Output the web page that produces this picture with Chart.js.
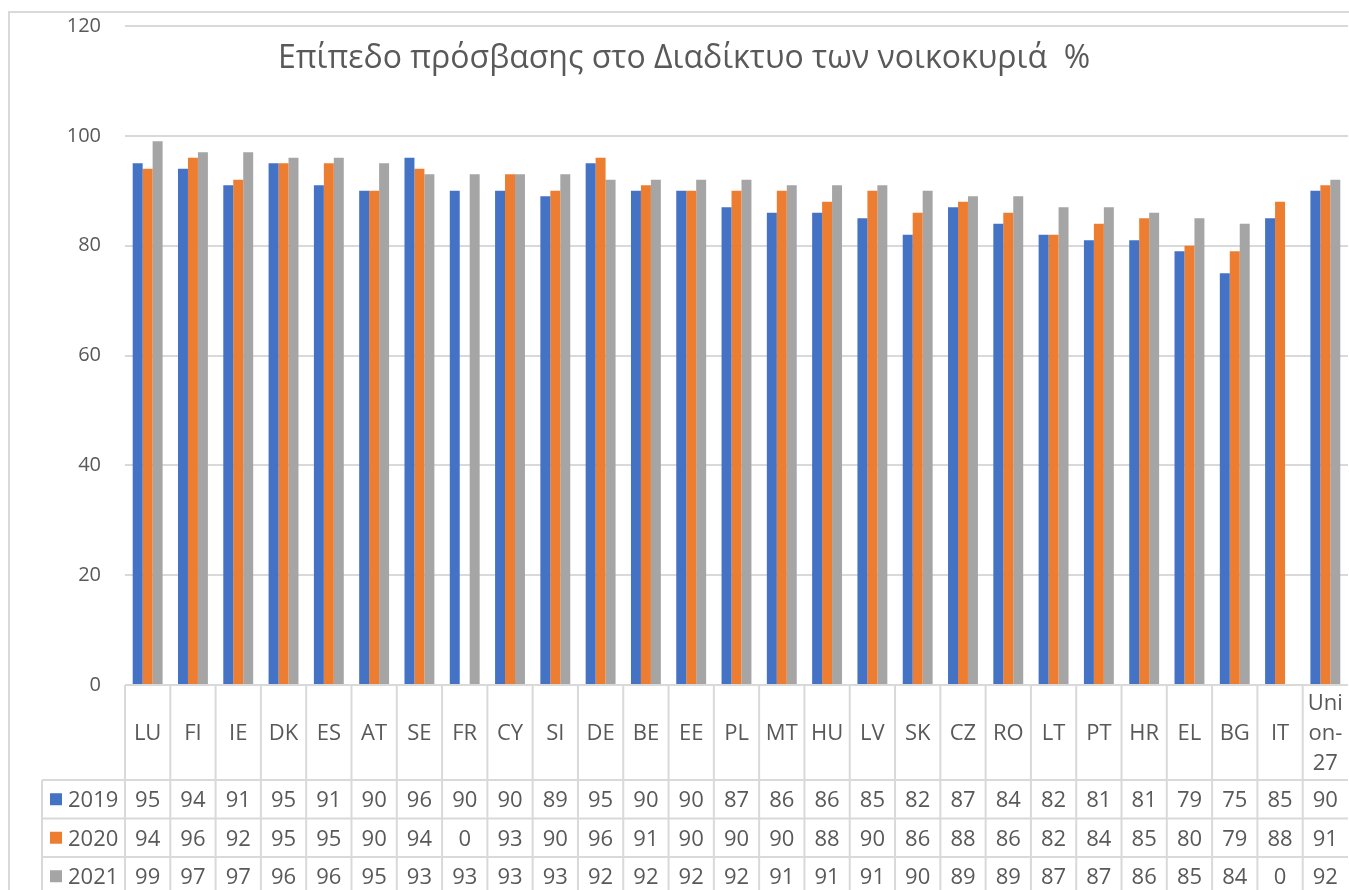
<!DOCTYPE html>
<html>
<head>
<meta charset="utf-8">
<script src="https://cdn.jsdelivr.net/npm/chart.js@4.4.1/dist/chart.umd.min.js"></script>
<style>
  html, body { margin: 0; padding: 0; background: #ffffff; }
  #wrap { width: 1349px; height: 890px; position: relative; }
</style>
</head>
<body>
<div id="wrap"><canvas id="c" width="1349" height="890"></canvas></div>
<script>
// Household internet access level (%) by country
const categories = ['LU','FI','IE','DK','ES','AT','SE','FR','CY','SI','DE','BE','EE','PL','MT','HU','LV','SK','CZ','RO','LT','PT','HR','EL','BG','IT','Union-27'];
const seriesNames = ['2019', '2020', '2021'];
const values2019 = [95,94,91,95,91,90,96,90,90,89,95,90,90,87,86,86,85,82,87,84,82,81,81,79,75,85,90];
const values2020 = [94,96,92,95,95,90,94,0,93,90,96,91,90,90,90,88,90,86,88,86,82,84,85,80,79,88,91];
const values2021 = [99,97,97,96,96,95,93,93,93,93,92,92,92,92,91,91,91,90,89,89,87,87,86,85,84,0,92];
const chartTitle = 'Επίπεδο πρόσβασης στο Διαδίκτυο των νοικοκυριά  %';

const seriesColors = ['#4472C4', '#ED7D31', '#A5A5A5'];
const textColor = '#595959';
const lineColor = '#d9d9d9';
const fontFamily = "'Open Sans', 'Noto Sans', sans-serif";

// Outer frame of the chart object
const framePlugin = {
  id: 'frame',
  beforeDraw(chart) {
    const ctx = chart.ctx;
    ctx.save();
    ctx.fillStyle = '#ffffff';
    ctx.fillRect(0, 0, chart.width, chart.height);
    ctx.strokeStyle = lineColor;
    ctx.lineWidth = 2;
    ctx.strokeRect(9, 12, chart.width + 20, chart.height + 20);
    ctx.restore();
  }
};

// Title laid over the top of the plot area
const overlayTitlePlugin = {
  id: 'overlayTitle',
  afterDraw(chart) {
    const ctx = chart.ctx;
    ctx.save();
    ctx.font = '32px ' + fontFamily;
    ctx.fillStyle = textColor;
    ctx.textAlign = 'center';
    ctx.textBaseline = 'alphabetic';
    ctx.fillText(chartTitle, 684, 68);
    ctx.restore();
  }
};

// Break a label into lines that fit the column width
function wrapLabel(ctx, text, maxWidth) {
  if (ctx.measureText(text).width <= maxWidth) return [text];
  const lines = [];
  let cur = '';
  for (const ch of text) {
    if (cur && ctx.measureText(cur + ch).width > maxWidth) {
      lines.push(cur);
      cur = ch;
    } else {
      cur += ch;
    }
  }
  if (cur) lines.push(cur);
  return lines;
}

// Data table under the plot: category row plus one row per series
const dataTablePlugin = {
  id: 'dataTable',
  afterDraw(chart) {
    const ctx = chart.ctx;
    const area = chart.chartArea;
    const xs = chart.scales.x;
    const n = categories.length;
    const colW = (area.right - area.left) / n;
    const top = area.bottom;
    const catRowH = 95;
    const rowH = 38.5;
    const catBottom = top + catRowH;
    const legendLeft = 42;
    const bottomEdge = chart.height + 5;
    const fontSize = 22;
    const rows = [values2019, values2020, values2021];

    ctx.save();
    ctx.strokeStyle = lineColor;
    ctx.lineWidth = 2;
    ctx.beginPath();
    ctx.moveTo(area.left, top);
    ctx.lineTo(area.right, top);
    for (let r = 0; r < rows.length; r++) {
      const y = catBottom + r * rowH;
      ctx.moveTo(legendLeft, y);
      ctx.lineTo(area.right, y);
    }
    for (let i = 0; i < n; i++) {
      const xl = xs.getPixelForValue(i) - colW / 2;
      ctx.moveTo(xl, top);
      ctx.lineTo(xl, bottomEdge);
    }
    ctx.moveTo(legendLeft, catBottom);
    ctx.lineTo(legendLeft, bottomEdge);
    ctx.stroke();

    ctx.font = fontSize + 'px ' + fontFamily;
    ctx.fillStyle = textColor;
    ctx.textAlign = 'center';
    ctx.textBaseline = 'alphabetic';
    const capHalf = fontSize * 0.357;

    // category labels
    for (let i = 0; i < n; i++) {
      const cx = xs.getPixelForValue(i);
      const lines = wrapLabel(ctx, categories[i], colW - 6);
      const lh = 30;
      const cy0 = top + catRowH / 2 - (lines.length - 1) * lh / 2;
      lines.forEach((ln, k) => {
        ctx.fillText(ln, cx, cy0 + k * lh + capHalf);
      });
    }

    // series rows
    rows.forEach((vals, r) => {
      const cy = catBottom + rowH * (r + 0.5);
      ctx.fillStyle = seriesColors[r];
      ctx.fillRect(50, cy - 6, 12, 12);
      ctx.fillStyle = textColor;
      ctx.textAlign = 'left';
      ctx.fillText(seriesNames[r], 68, cy + capHalf);
      ctx.textAlign = 'center';
      for (let i = 0; i < n; i++) {
        ctx.fillText(String(vals[i]), xs.getPixelForValue(i), cy + capHalf);
      }
    });
    ctx.restore();
  }
};

const ctx = document.getElementById('c').getContext('2d');
new Chart(ctx, {
  type: 'bar',
  data: {
    labels: categories,
    datasets: [
      { label: seriesNames[0], data: values2019, backgroundColor: seriesColors[0] },
      { label: seriesNames[1], data: values2020, backgroundColor: seriesColors[1] },
      { label: seriesNames[2], data: values2021, backgroundColor: seriesColors[2] }
    ]
  },
  options: {
    responsive: false,
    animation: false,
    layout: { padding: { top: 26, right: 1, bottom: 205, left: 0 } },
    datasets: { bar: { categoryPercentage: 0.66, barPercentage: 1.0, borderWidth: 0 } },
    plugins: {
      legend: { display: false },
      title: { display: false },
      tooltip: { enabled: false }
    },
    scales: {
      x: { display: false, grid: { display: false } },
      y: {
        min: 0,
        max: 120,
        ticks: { stepSize: 20, padding: 24, color: textColor, font: { family: fontFamily, size: 20 } },
        grid: { color: lineColor, lineWidth: 2, drawTicks: false },
        border: { display: false },
        afterFit(scale) {
          scale.width = 125;
          scale.paddingTop = 0;
          scale.paddingBottom = 0;
        }
      }
    }
  },
  plugins: [framePlugin, dataTablePlugin, overlayTitlePlugin]
});
</script>
</body>
</html>
